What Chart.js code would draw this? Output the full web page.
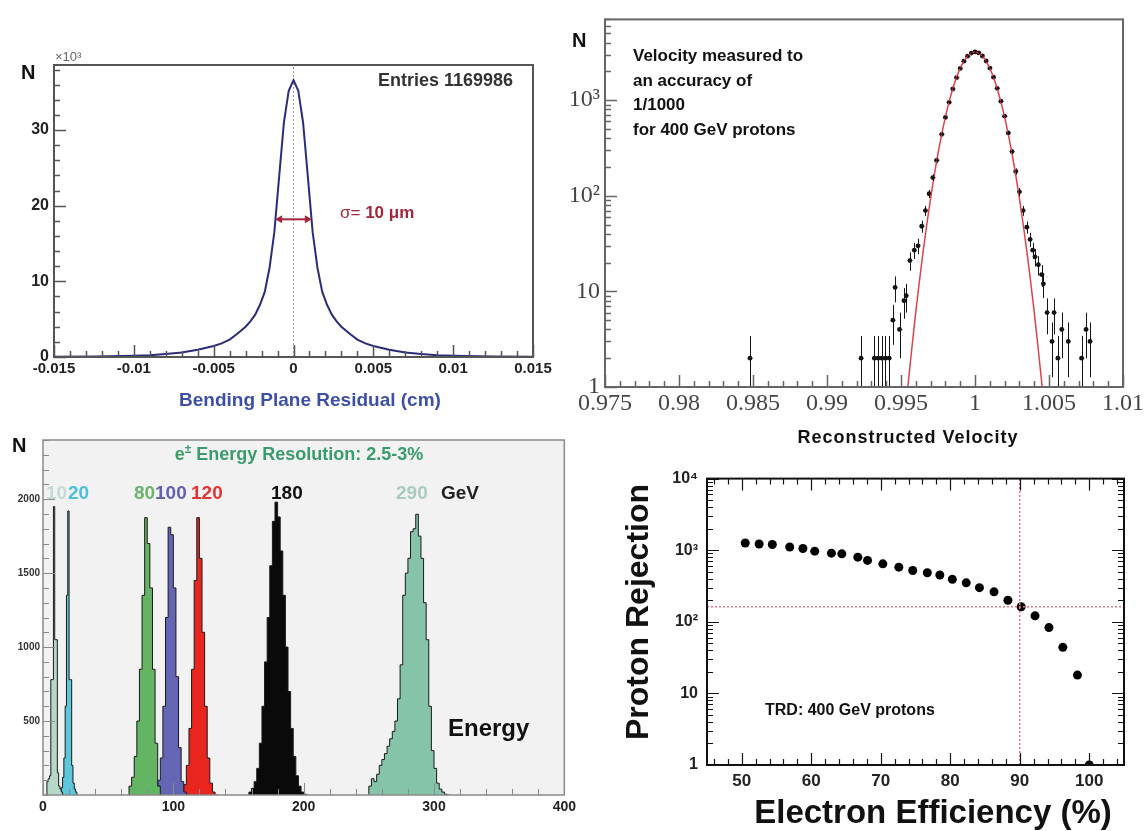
<!DOCTYPE html>
<html lang="en">
<head>
<meta charset="utf-8">
<title>AMS detector performance</title>
<script src="https://cdn.jsdelivr.net/npm/chart.js@4.4.1/dist/chart.umd.min.js"></script>
<style>
  html, body { margin: 0; padding: 0; background: #fff; }
  body { position: relative; width: 1147px; height: 831px; overflow: hidden; font-family: "Liberation Sans", Arial, sans-serif; }
  canvas { position: absolute; }
  .t { position: absolute; font-weight: bold; white-space: nowrap; line-height: 1; color: #111; }
</style>
</head>
<body>
<canvas id="residuo" width="570" height="420" style="left:0;top:0"></canvas>
<canvas id="velocidade" width="577" height="450" style="left:570px;top:0"></canvas>
<canvas id="energia" width="580" height="401" style="left:0;top:430px"></canvas>
<canvas id="rejeicao" width="557" height="371" style="left:590px;top:460px"></canvas>

<!-- painel 1 -->
<div class="t" style="left:21px;top:62px;font-size:20px">N</div>
<div class="t" style="left:55px;top:50px;font-size:13px;font-weight:normal;color:#666">×10³</div>
<div class="t" style="left:313px;top:71px;width:200px;text-align:right;font-size:18px;color:#333">Entries 1169986</div>
<div class="t" style="left:340px;top:204px;font-size:17px;color:#a3263b"><span style="font-weight:normal">σ= </span>10 μm</div>
<div class="t" style="left:110px;top:390px;width:400px;text-align:center;font-size:19px;color:#3d50a5">Bending Plane Residual (cm)</div>

<!-- painel 2 -->
<div class="t" style="left:572px;top:30px;font-size:20px">N</div>
<div class="t" style="left:633px;top:44px;font-size:17px;line-height:24.5px">Velocity measured to<br>an accuracy of<br>1/1000<br>for 400 GeV protons</div>
<div class="t" style="left:708px;top:428px;width:400px;text-align:center;font-size:18px;letter-spacing:1px">Reconstructed Velocity</div>

<!-- painel 3 -->
<div class="t" style="left:12px;top:435px;font-size:20px">N</div>
<div class="t" style="left:99px;top:445px;width:400px;text-align:center;font-size:18px;color:#3a9c6a">e<sup style="font-size:12px;line-height:0">±</sup> Energy Resolution: 2.5-3%</div>
<div class="t" style="left:46px;top:483px;font-size:19px;color:#c5d9d6">10</div>
<div class="t" style="left:68px;top:483px;font-size:19px;color:#4cc0d6">20</div>
<div class="t" style="left:134px;top:483px;font-size:19px;color:#6cb46c">80</div>
<div class="t" style="left:155px;top:483px;font-size:19px;color:#6262b0">100</div>
<div class="t" style="left:191px;top:483px;font-size:19px;color:#e23434">120</div>
<div class="t" style="left:271px;top:483px;font-size:19px;color:#111">180</div>
<div class="t" style="left:396px;top:483px;font-size:19px;color:#a9cbc0">290</div>
<div class="t" style="left:441px;top:483px;font-size:19px;color:#222">GeV</div>
<div class="t" style="left:448px;top:716px;font-size:24px">Energy</div>

<!-- painel 4 -->
<div class="t" style="left:637px;top:612px;font-size:32px;transform:translate(-50%,-50%) rotate(-90deg)">Proton Rejection</div>
<div class="t" style="left:633px;top:795px;width:600px;text-align:center;font-size:33px">Electron Efficiency (%)</div>
<div class="t" style="left:765px;top:702px;font-size:16px">TRD: 400 GeV protons</div>

<script>
// ---------- painel 1: resíduo no plano de curvatura (contagens em milhares)
const residuoX = [-0.015, -0.0125, -0.01, -0.009, -0.008, -0.007, -0.006, -0.005, -0.0045, -0.004, -0.0035,
  -0.003, -0.0027, -0.0024, -0.0021, -0.0018, -0.0015, -0.0012, -0.0009, -0.0006, -0.0003, 0,
  0.0003, 0.0006, 0.0009, 0.0012, 0.0015, 0.0018, 0.0021, 0.0024, 0.0027, 0.003,
  0.0035, 0.004, 0.0045, 0.005, 0.006, 0.007, 0.008, 0.009, 0.01, 0.0125, 0.015];
const residuoN = [0.04, 0.07, 0.15, 0.22, 0.4, 0.6, 0.95, 1.45, 1.8, 2.3, 3.1,
  4.0, 4.7, 5.6, 6.9, 8.6, 11.8, 16.5, 23.8, 31.0, 35.2, 36.6,
  35.2, 31.0, 23.8, 16.5, 11.8, 8.6, 6.9, 5.6, 4.7, 4.0,
  3.1, 2.3, 1.8, 1.45, 0.95, 0.6, 0.4, 0.22, 0.15, 0.07, 0.04];
const residuoTicksX = [-0.015, -0.01, -0.005, 0, 0.005, 0.01, 0.015];
const residuoRotX = ['-0.015', '-0.01', '-0.005', '0', '0.005', '0.01', '0.015'];
const residuoTicksY = [0, 10, 20, 30];
const residuoRotY = ['0', '10', '20', '30'];
const setaSigma = [-0.00115, 0.00115];
const alturaSeta = 18.2;

// ---------- painel 2: velocidade reconstruída
const velX = [0.9848, 0.9923, 0.9932, 0.99345, 0.9937, 0.99395, 0.9942, 0.99445, 0.9946, 0.9949,
  0.9952, 0.99535, 0.9956, 0.9959, 0.99615, 0.9964, 0.99665, 0.9969, 0.99715, 0.9974,
  0.99775, 0.998, 0.99825, 0.9985, 0.99875, 0.999, 0.99925, 0.9995, 0.99975, 1.0,
  1.00025, 1.0005, 1.00075, 1.001, 1.00125, 1.0015, 1.00175, 1.002, 1.00225, 1.0025,
  1.00275, 1.003, 1.00325, 1.0035, 1.00372, 1.0039, 1.00405, 1.00428, 1.0045, 1.00462,
  1.00487, 1.0052, 1.00534, 1.0056, 1.00586, 1.0063, 1.0072, 1.0075, 1.00777];
const velN = [2, 2, 2, 2, 2, 2, 2, 5, 11, 4,
  8, 9, 21, 27, 30, 48, 70, 105, 155, 235,
  440, 660, 950, 1310, 1720, 2150, 2560, 2890, 3110, 3200,
  3120, 2900, 2570, 2170, 1740, 1330, 975, 680, 455, 290,
  180, 110, 70, 47, 35, 27, 23, 19, 15, 12,
  6, 3, 6, 2, 4, 3, 2, 4, 3];
// ajuste gaussiano (linha vermelha)
const fitX = [0.9954, 0.99575, 0.996, 0.99625, 0.9965, 0.99675, 0.997, 0.99725, 0.9975, 0.99775,
  0.998, 0.99825, 0.9985, 0.99875, 0.999, 0.99925, 0.9995, 0.99975, 1.0,
  1.00025, 1.0005, 1.00075, 1.001, 1.00125, 1.0015, 1.00175, 1.002, 1.00225,
  1.0025, 1.00275, 1.003, 1.00325, 1.0035, 1.00375, 1.004, 1.00425, 1.0046];
const fitN = [0.81, 2.7, 6.1, 13, 26.4, 51, 94, 166, 277, 441,
  668, 965, 1326, 1736, 2163, 2568, 2902, 3123, 3200,
  3123, 2902, 2568, 2163, 1736, 1326, 965, 668, 441,
  277, 166, 94, 51, 26.4, 13, 6.1, 2.7, 0.81];
const velTicksX = [0.975, 0.98, 0.985, 0.99, 0.995, 1, 1.005, 1.01];
const velRotX = ['0.975', '0.98', '0.985', '0.99', '0.995', '1', '1.005', '1.01'];
const velTicksY = [1, 10, 100, 1000];
const velRotY = ['1', '10', '10²', '10³'];

// ---------- painel 3: energia (histogramas por feixe, GeV)
const energiaFeixe = [10, 20, 80, 100, 120, 180, 290];
const inicioBins = [3, 14, 66, 88, 108, 158, 250];
const larguraBins = [1, 1, 2, 2, 2, 2, 2];
const contagens10 = [60, 90, 110, 130, 780, 780, 1950, 1050, 1050, 150, 60, 40, 20];
const contagens20 = [20, 50, 120, 250, 600, 1350, 1920, 780, 780, 200, 80, 40, 20];
const contagens80 = [20, 60, 120, 260, 500, 850, 1350, 1875, 1700, 1400, 850, 350, 60];
const contagens100 = [30, 100, 250, 600, 1200, 1810, 1760, 1400, 800, 320, 90, 20];
const contagens120 = [20, 70, 200, 450, 850, 1450, 1875, 1600, 1100, 600, 250, 80, 20];
const contagens180 = [10, 20, 45, 90, 180, 350, 600, 900, 1200, 1550, 1850, 1980,
  1880, 1650, 1350, 1000, 700, 450, 260, 130, 60, 20, 5];
const contagens290 = [10, 60, 110, 90, 140, 200, 240, 280, 330, 380, 430, 500, 650, 880, 1350,
  1500, 1600, 1780, 1800, 1898, 1750, 1600, 1300, 1050, 600, 300, 180, 80, 40, 20, 5];
const energiaTicksX = [0, 100, 200, 300, 400];
const energiaRotX = ['0', '100', '200', '300', '400'];
const energiaTicksY = [500, 1000, 1500, 2000];
const energiaRotY = ['500', '1000', '1500', '2000'];

// ---------- painel 4: rejeição de prótons no TRD
const eficiencia = [50.5, 52.5, 54.4, 56.9, 58.8, 60.5, 62.9, 64.4, 66.7, 68.1, 70.3, 72.6, 74.6,
  76.7, 78.5, 80.3, 82.3, 84.2, 86.3, 88.3, 90.2, 92.2, 94.2, 96.2, 98.3, 100];
const rejeicao = [1260, 1220, 1200, 1110, 1055, 970, 910, 890, 800, 720, 645, 580, 520,
  485, 450, 392, 350, 300, 262, 200, 162, 121, 83, 44, 18, 1];
const eficienciaRef = 90;
const rejeicaoRef = 162;
const rejTicksX = [50, 60, 70, 80, 90, 100];
const rejRotX = ['50', '60', '70', '80', '90', '100'];
const rejTicksY = [1, 10, 100, 1000, 10000];
const rejRotY = ['1', '10', '10²', '10³', '10⁴'];

// ---------- utilitários
const SANS = "'Liberation Sans', Arial, 'DejaVu Sans', sans-serif";
const SERIF = "'Liberation Serif', 'DejaVu Serif', serif";

function passos(ini, fim, p) {
  const r = [];
  for (let v = ini; v <= fim + p / 1000; v += p) r.push(+v.toFixed(6));
  return r;
}
function minLog(decadas) {
  const r = [];
  decadas.forEach(d => { for (let k = 2; k <= 9; k++) r.push(d * k); });
  return r;
}

function eixo(cfg) {
  return {
    type: cfg.tipo || 'linear',
    min: cfg.min, max: cfg.max,
    grid: { display: false, drawTicks: false },
    border: { display: false },
    afterBuildTicks: s => { s.ticks = cfg.valores.map(v => ({ value: v })); },
    afterFit: s => { if (cfg.vertical) s.width = cfg.tamanho; else s.height = cfg.tamanho; },
    ticks: {
      autoSkip: false, maxRotation: 0, minRotation: 0,
      padding: cfg.padding, font: cfg.fonte, color: cfg.cor,
      callback: (v, i) => cfg.rotulos[i]
    }
  };
}

function opcoes(pad, escalas, extra) {
  return {
    animation: false, responsive: false, devicePixelRatio: 1,
    layout: { padding: pad },
    plugins: Object.assign({ legend: { display: false }, tooltip: { enabled: false } }, extra),
    scales: escalas
  };
}

// moldura do gráfico + marcas de escala para dentro (estilo ROOT)
const moldura = {
  id: 'moldura',
  beforeDatasetsDraw(chart, args, o) {
    if (!o.fundo) return;
    const a = chart.chartArea, ctx = chart.ctx;
    ctx.save();
    ctx.fillStyle = o.fundo;
    ctx.fillRect(a.left, a.top, a.right - a.left, a.bottom - a.top);
    ctx.restore();
  },
  afterDraw(chart, args, o) {
    const { ctx, chartArea: a, scales: { x, y } } = chart;
    ctx.save();
    ctx.strokeStyle = o.cor;
    ctx.lineWidth = o.tracoTick || 1;
    ctx.beginPath();
    const marcaX = (lista, L) => lista.forEach(v => {
      const p = Math.round(x.getPixelForValue(v)) + 0.5;
      if (p < a.left - 1 || p > a.right + 1) return;
      ctx.moveTo(p, a.bottom); ctx.lineTo(p, a.bottom - L);
      if (o.espelho) { ctx.moveTo(p, a.top); ctx.lineTo(p, a.top + L); }
    });
    const marcaY = (lista, L) => lista.forEach(v => {
      const p = Math.round(y.getPixelForValue(v)) + 0.5;
      if (p < a.top - 1 || p > a.bottom + 1) return;
      ctx.moveTo(a.left, p); ctx.lineTo(a.left + L, p);
      if (o.espelho) { ctx.moveTo(a.right, p); ctx.lineTo(a.right - L, p); }
    });
    marcaX(o.xMenor, 6); marcaX(o.xMaior, 12);
    marcaY(o.yMenor, 6); marcaY(o.yMaior, 12);
    ctx.stroke();
    ctx.lineWidth = o.largura;
    ctx.strokeRect(a.left, a.top, a.right - a.left, a.bottom - a.top);
    ctx.restore();
  }
};

// seta de largura da distribuição (painel 1)
const seta = {
  id: 'seta',
  afterDatasetsDraw(chart) {
    const { ctx, scales: { x, y } } = chart;
    const x1 = x.getPixelForValue(setaSigma[0]);
    const x2 = x.getPixelForValue(setaSigma[1]);
    const py = y.getPixelForValue(alturaSeta);
    ctx.save();
    ctx.strokeStyle = ctx.fillStyle = '#a3263b';
    ctx.lineWidth = 2;
    ctx.beginPath(); ctx.moveTo(x1 + 4, py); ctx.lineTo(x2 - 4, py); ctx.stroke();
    ctx.beginPath();
    ctx.moveTo(x1, py); ctx.lineTo(x1 + 7, py - 4); ctx.lineTo(x1 + 7, py + 4); ctx.closePath();
    ctx.moveTo(x2, py); ctx.lineTo(x2 - 7, py - 4); ctx.lineTo(x2 - 7, py + 4); ctx.closePath();
    ctx.fill();
    ctx.restore();
  }
};

// barras de erro sqrt(N) (painel 2)
const barras = {
  id: 'barras',
  afterDatasetsDraw(chart) {
    const { ctx, chartArea: a, scales: { x, y } } = chart;
    ctx.save();
    ctx.beginPath(); ctx.rect(a.left, a.top, a.right - a.left, a.bottom - a.top); ctx.clip();
    ctx.strokeStyle = '#151515';
    ctx.lineWidth = 1;
    ctx.beginPath();
    velX.forEach((v, i) => {
      const n = velN[i], e = Math.sqrt(n);
      const px = Math.round(x.getPixelForValue(v)) + 0.5;
      const baixo = n - e > 0 ? y.getPixelForValue(n - e) : a.bottom;
      const py = y.getPixelForValue(n);
      const meia = x.getPixelForValue(v + 0.000125) - x.getPixelForValue(v);
      ctx.moveTo(px, y.getPixelForValue(n + e)); ctx.lineTo(px, Math.min(baixo, a.bottom));
      ctx.moveTo(px - meia, py); ctx.lineTo(px + meia, py);
    });
    ctx.stroke();
    ctx.restore();
  }
};

// ---------- painel 1
new Chart(document.getElementById('residuo'), {
  type: 'line',
  data: {
    datasets: [
      { data: residuoX.map((v, i) => ({ x: v, y: residuoN[i] })), borderColor: '#2b2d78', borderWidth: 2, pointRadius: 0, tension: 0 },
      { data: [{ x: 0, y: 0 }, { x: 0, y: 38.6 }], borderColor: '#9a9a9a', borderDash: [2, 2], borderWidth: 1, pointRadius: 0 }
    ]
  },
  options: opcoes({ left: 0, right: 37, top: 65, bottom: 0 }, {
    x: eixo({ min: -0.015, max: 0.015, valores: residuoTicksX, rotulos: residuoRotX, tamanho: 63, padding: 3,
      fonte: { family: SANS, size: 15, weight: 'bold' }, cor: '#222' }),
    y: eixo({ min: 0, max: 38.6, valores: residuoTicksY, rotulos: residuoRotY, tamanho: 54, padding: 5, vertical: true,
      fonte: { family: SANS, size: 16, weight: 'bold' }, cor: '#222' })
  }, {
    moldura: { cor: '#555', largura: 2, tracoTick: 1.5,
      xMaior: residuoTicksX, xMenor: passos(-0.015, 0.015, 0.001),
      yMaior: residuoTicksY, yMenor: passos(0, 38, 2) }
  }),
  plugins: [moldura, seta]
});

// ---------- painel 2
new Chart(document.getElementById('velocidade'), {
  type: 'scatter',
  data: {
    datasets: [
      { data: fitX.map((v, i) => ({ x: v, y: fitN[i] })), showLine: true, borderColor: '#e0404c', borderWidth: 1.5, pointRadius: 0, tension: 0 },
      { data: velX.map((v, i) => ({ x: v, y: velN[i] })), pointRadius: 2.4, pointBackgroundColor: '#111', pointBorderWidth: 0 }
    ]
  },
  options: opcoes({ left: 0, right: 24, top: 13, bottom: 0 }, {
    x: eixo({ min: 0.975, max: 1.01, valores: velTicksX, rotulos: velRotX, tamanho: 63, padding: 2,
      fonte: { family: SERIF, size: 24 }, cor: '#444' }),
    y: eixo({ tipo: 'logarithmic', min: 1, max: 7000, valores: velTicksY, rotulos: velRotY, tamanho: 35, padding: 5, vertical: true,
      fonte: { family: SERIF, size: 24 }, cor: '#444' })
  }, {
    moldura: { cor: '#666', largura: 2, tracoTick: 1.5,
      xMaior: velTicksX, xMenor: passos(0.975, 1.01, 0.001),
      yMaior: velTicksY, yMenor: minLog([1, 10, 100, 1000]) }
  }),
  plugins: [moldura, barras]
});

// ---------- painel 3
const listasEnergia = [contagens10, contagens20, contagens80, contagens100, contagens120, contagens180, contagens290];
const preenchimento = ['#b5d9c6', '#5cc6da', '#63b463', '#6565b5', '#e8261f', '#0a0a0a', '#86c4aa'];
new Chart(document.getElementById('energia'), {
  type: 'line',
  data: {
    datasets: listasEnergia.map((lista, k) => {
      const w = larguraBins[k], ini = inicioBins[k];
      const pts = [{ x: ini, y: 0 }].concat(lista.map((n, i) => ({ x: ini + i * w, y: n })));
      pts.push({ x: ini + lista.length * w, y: 0 });
      return {
        label: energiaFeixe[k] + ' GeV', data: pts, stepped: 'after', fill: 'origin',
        backgroundColor: preenchimento[k], borderColor: '#1a1a1a', borderWidth: 1, pointRadius: 0
      };
    })
  },
  options: opcoes({ left: 0, right: 15, top: 10, bottom: 0 }, {
    x: eixo({ min: 0, max: 400, valores: energiaTicksX, rotulos: energiaRotX, tamanho: 36, padding: 4,
      fonte: { family: SANS, size: 14, weight: 'bold' }, cor: '#222' }),
    y: eixo({ min: 0, max: 2400, valores: energiaTicksY, rotulos: energiaRotY, tamanho: 43, padding: 3, vertical: true,
      fonte: { family: SANS, size: 10, weight: 'bold' }, cor: '#333' })
  }, {
    moldura: { cor: '#8a8a8a', largura: 1.5, tracoTick: 1, fundo: '#f2f2f2',
      xMaior: energiaTicksX, xMenor: passos(0, 400, 20),
      yMaior: energiaTicksY, yMenor: passos(0, 2400, 100) }
  }),
  plugins: [moldura]
});

// ---------- painel 4
new Chart(document.getElementById('rejeicao'), {
  type: 'scatter',
  data: {
    datasets: [
      { data: [{ x: 45, y: rejeicaoRef }, { x: 105, y: rejeicaoRef }], showLine: true, borderColor: '#e07a8a', borderDash: [2, 2], borderWidth: 1.5, pointRadius: 0 },
      { data: [{ x: eficienciaRef, y: 1 }, { x: eficienciaRef, y: 10000 }], showLine: true, borderColor: '#e07a8a', borderDash: [2, 2], borderWidth: 1.5, pointRadius: 0 },
      { data: eficiencia.map((v, i) => ({ x: v, y: rejeicao[i] })), pointRadius: 4.5, pointBackgroundColor: '#000', pointBorderWidth: 0 }
    ]
  },
  options: opcoes({ left: 0, right: 23, top: 17, bottom: 0 }, {
    x: eixo({ min: 45, max: 105, valores: rejTicksX, rotulos: rejRotX, tamanho: 66, padding: 6,
      fonte: { family: SANS, size: 17, weight: 'bold' }, cor: '#222' }),
    y: eixo({ tipo: 'logarithmic', min: 1, max: 10000, valores: rejTicksY, rotulos: rejRotY, tamanho: 117, padding: 9, vertical: true,
      fonte: { family: SANS, size: 16, weight: 'bold' }, cor: '#222' })
  }, {
    moldura: { cor: '#111', largura: 2, tracoTick: 1.2, espelho: true,
      xMaior: rejTicksX, xMenor: passos(46, 104, 2),
      yMaior: rejTicksY, yMenor: minLog([1, 10, 100, 1000]) }
  }),
  plugins: [moldura]
});
</script>
</body>
</html>
